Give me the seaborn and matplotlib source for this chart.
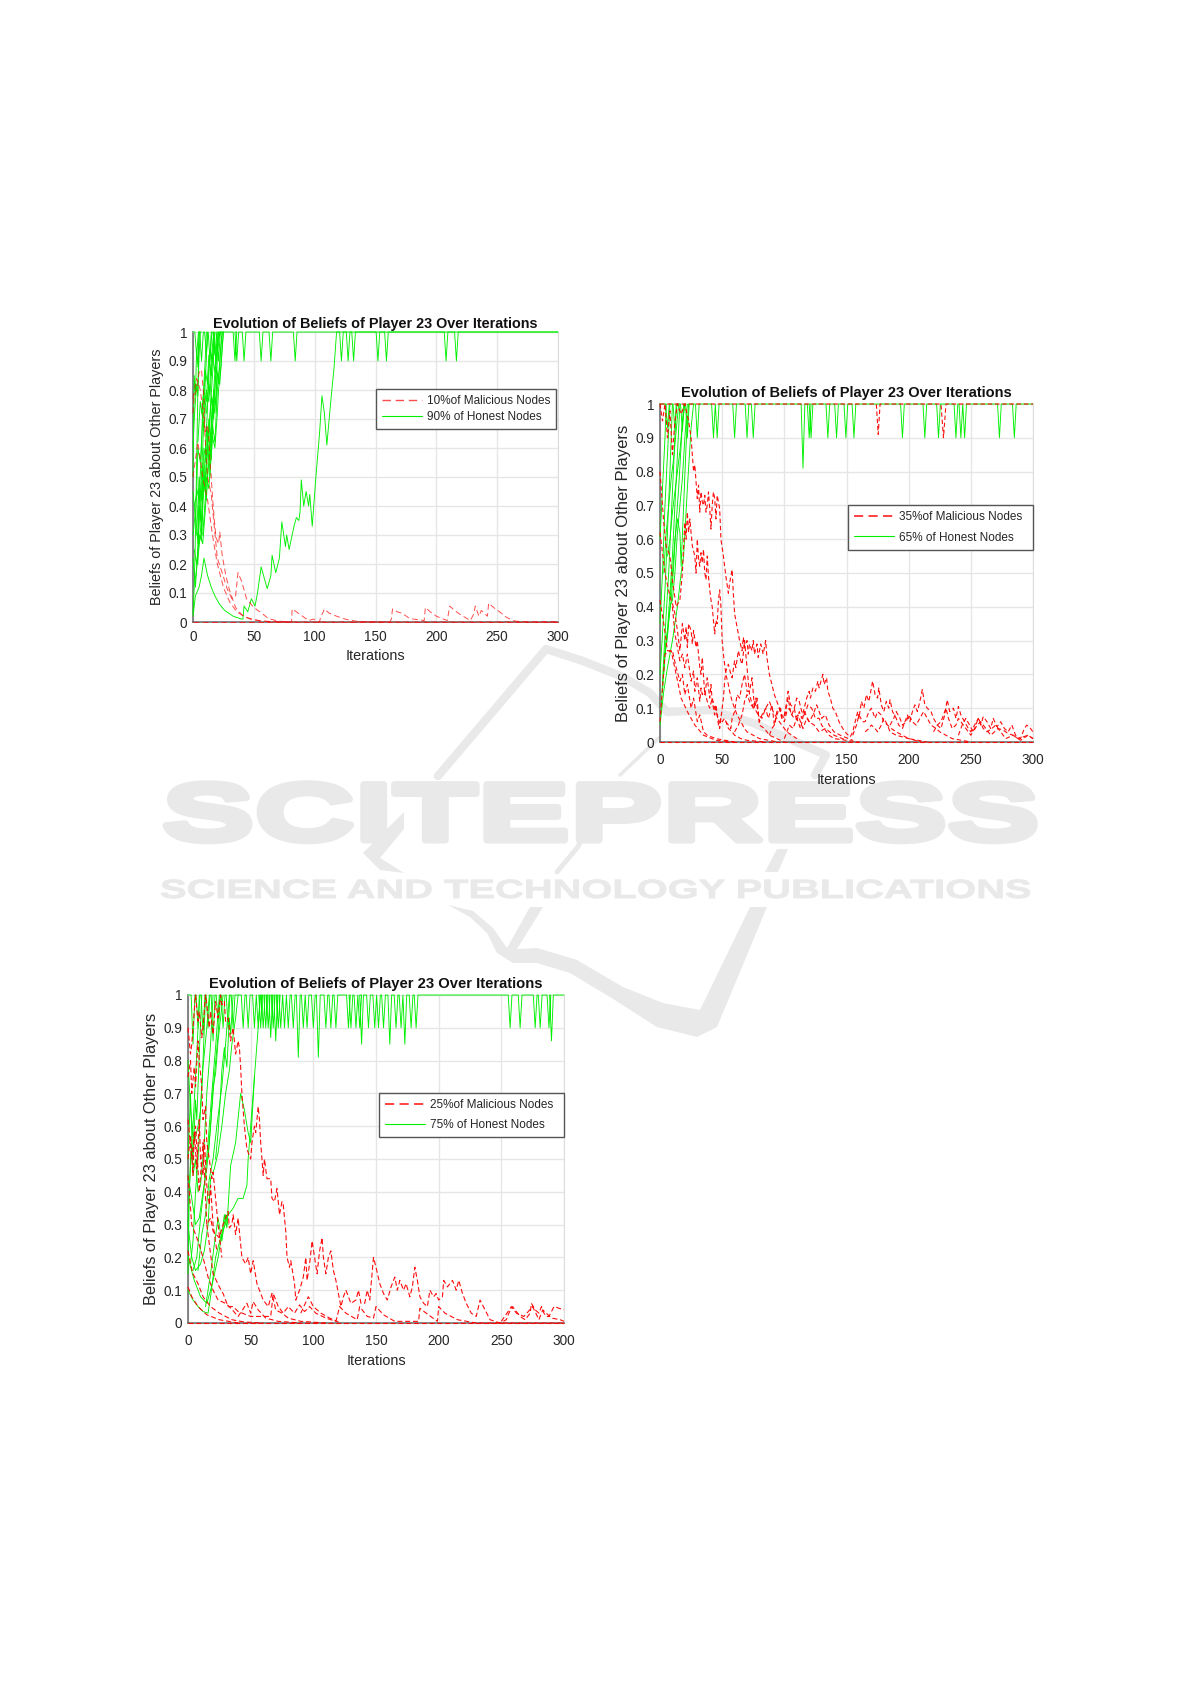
#Recreates the three "Evolution of Beliefs of Player 23" panels plus the page watermark

import matplotlib
matplotlib.use("Agg")
import matplotlib.pyplot as plt
import pandas as pd
import seaborn as sns
from matplotlib.lines import Line2D
from matplotlib.patches import Polygon
from matplotlib.patheffects import AbstractPathEffect
from matplotlib.transforms import Affine2D

PAGE_W = 1191
PAGE_H = 1684

# -----------------------------------------------------------
# Values
# -----------------------------------------------------------
x_ticks = [0, 50, 100, 150, 200, 250, 300]
y_ticks = [0, 0.1, 0.2, 0.3, 0.4, 0.5, 0.6, 0.7, 0.8, 0.9, 1]
y_tick_labels = ["0", "0.1", "0.2", "0.3", "0.4", "0.5", "0.6", "0.7", "0.8", "0.9", "1"]

# 10% malicious
malicious_10 = [
    ([0, 1, 3, 5, 7, 9, 10, 12, 13, 14, 15, 16, 18, 19, 21, 22, 24, 27, 30, 35, 40, 48, 60, 80],
     [0.72, 0.78, 0.8, 0.86, 0.87, 0.77, 0.65, 0.68, 0.64, 0.55, 0.5, 0.43, 0.33, 0.29, 0.27, 0.31, 0.23, 0.16, 0.11, 0.05, 0.025, 0.008, 0.002, 0]),
    ([0, 3, 6, 9, 12, 15, 17, 20, 24, 28, 32, 35, 37, 40, 44, 50, 55, 62, 70, 81, 81.5, 85, 90, 95, 99, 104, 105, 106.5, 108, 112, 118, 125, 135, 162, 163, 164, 168, 172, 178, 190, 191, 195, 200, 209, 211, 215, 220, 228, 231, 232, 235, 237, 242, 243, 247, 252, 258, 265, 275, 300],
     [0.77, 0.84, 0.8, 0.7, 0.5, 0.44, 0.35, 0.22, 0.17, 0.115, 0.08, 0.09, 0.17, 0.14, 0.08, 0.05, 0.035, 0.012, 0.003, 0, 0.045, 0.035, 0.02, 0.005, 0.01, 0, 0.02, 0.03, 0.045, 0.03, 0.02, 0.01, 0.002, 0, 0.01, 0.045, 0.035, 0.03, 0.012, 0.005, 0.05, 0.035, 0.02, 0.005, 0.055, 0.04, 0.025, 0.005, 0.03, 0.055, 0.02, 0.04, 0.02, 0.065, 0.05, 0.035, 0.015, 0.003, 0, 0]),
    ([0, 4, 8, 12, 16, 20, 25, 30, 36, 44, 55, 70, 300],
     [0.5, 0.62, 0.5, 0.42, 0.3, 0.2, 0.12, 0.07, 0.035, 0.015, 0.004, 0, 0]),
    ([0, 300], [0, 0]),
]
honest_10 = [
    ([0, 1, 2, 3, 4, 5], [0.03, 0.12, 0.3, 0.55, 0.8, 1]),
    ([0, 2, 4, 6, 8, 10, 12], [0.22, 0.12, 0.25, 0.42, 0.6, 0.82, 1]),
    ([1, 3, 5, 7, 9, 11, 13, 15], [0.25, 0.2, 0.3, 0.28, 0.5, 0.65, 0.85, 1]),
    ([0, 2, 3, 5, 7, 8, 10, 11], [0.45, 0.35, 0.46, 0.42, 0.6, 0.75, 0.9, 1]),
    ([0, 1, 2, 3, 4, 5, 7], [0.5, 0.85, 0.78, 0.94, 0.88, 1, 1]),
    ([0, 1, 3, 4, 5, 6], [0.6, 0.7, 0.82, 0.78, 0.92, 1]),
    ([0, 2, 4, 5, 7, 8, 10, 12, 14, 16, 18], [0.3, 0.38, 0.27, 0.46, 0.3, 0.5, 0.45, 0.6, 0.72, 0.85, 1]),
    ([2, 4, 6, 8, 10, 12, 14, 15, 17, 19, 21], [0.15, 0.22, 0.3, 0.27, 0.38, 0.5, 0.6, 0.56, 0.75, 0.88, 1]),
    ([3, 5, 7, 9, 11, 13, 15, 17, 19, 20, 22], [0.3, 0.5, 0.42, 0.6, 0.55, 0.7, 0.62, 0.8, 0.75, 0.92, 1]),
    ([5, 7, 9, 11, 13, 14, 16, 18, 20, 22, 24], [0.27, 0.35, 0.48, 0.42, 0.6, 0.5, 0.68, 0.62, 0.8, 0.9, 1]),
    ([6, 8, 10, 12, 14, 16, 18, 20, 22, 24, 25], [0.35, 0.55, 0.47, 0.66, 0.6, 0.77, 0.72, 0.86, 0.82, 0.95, 1]),
    ([4, 6, 8, 10, 12, 14, 16, 18], [0.62, 0.76, 0.7, 0.87, 0.82, 0.94, 0.9, 1]),
    ([7, 9, 11, 13, 15, 17, 19, 21, 23], [0.72, 0.8, 0.76, 0.92, 0.85, 0.97, 0.9, 1, 1]),
    ([1, 3, 4, 6, 8, 9, 11, 13, 15, 17], [0.4, 0.44, 0.6, 0.55, 0.7, 0.66, 0.8, 0.76, 0.9, 1]),
    ([4, 5, 7, 9, 10, 12, 14, 16, 18, 20], [0.2, 0.4, 0.34, 0.52, 0.47, 0.62, 0.57, 0.74, 0.86, 1]),
    ([8, 10, 11, 13, 15, 16, 18, 20, 21, 23, 25], [0.3, 0.42, 0.5, 0.46, 0.58, 0.64, 0.6, 0.72, 0.8, 0.88, 1]),
    ([10, 11, 13, 15, 17, 19, 21, 23, 24], [0.55, 0.68, 0.62, 0.78, 0.7, 0.88, 0.82, 0.96, 1]),
    ([11, 13, 14, 16, 18, 19, 21, 23], [0.72, 0.82, 0.78, 0.92, 0.86, 0.94, 0.98, 1]),
    ([0, 2, 5, 7, 9, 12, 15, 18, 22, 26, 33, 40, 41, 42, 45, 48, 51, 53, 56, 60, 61, 64, 65, 68, 71, 73, 76, 77, 79, 81, 83, 85, 87, 88, 89, 91, 93, 95, 96, 98, 101, 104, 106, 108, 110, 113, 116, 118, 300],
     [0.02, 0.09, 0.12, 0.16, 0.22, 0.16, 0.12, 0.09, 0.06, 0.04, 0.02, 0.01, 0.01, 0.055, 0.035, 0.08, 0.055, 0.1, 0.19, 0.13, 0.115, 0.16, 0.23, 0.17, 0.22, 0.345, 0.26, 0.3, 0.25, 0.29, 0.33, 0.36, 0.35, 0.38, 0.49, 0.4, 0.45, 0.4, 0.44, 0.33, 0.5, 0.65, 0.78, 0.72, 0.61, 0.75, 0.88, 1, 1]),
]
dip_at_10 = [3, 7, 11, 14, 18, 21, 34.5, 36, 42, 56, 64, 84, 122, 127.5, 132, 152, 159, 208, 216.5]
dip_to_10 = [0.92, 0.9, 0.93, 0.9, 0.92, 0.9, 0.9, 0.9, 0.9, 0.9, 0.9, 0.9, 0.9, 0.9, 0.9, 0.9, 0.9, 0.9, 0.9]

# 35% malicious
malicious_35 = [
    ([0, 2, 4, 6, 8, 10, 12, 14, 17, 20, 23, 25, 27, 28, 29, 30, 31, 32, 33, 34, 35, 36, 37, 38, 39, 40, 41, 42, 43, 44, 45, 46, 47, 48, 49, 51, 53, 55, 56, 58, 59, 60, 62, 64, 66, 67, 68, 70, 71, 72, 74, 75, 76, 78, 79, 81, 83, 85, 86, 88, 90, 92, 94, 96, 98, 100, 102, 103, 105, 106, 108, 110, 112, 114, 116, 118, 120, 121, 123, 125, 127, 128, 131, 132, 134, 135, 137, 139, 141, 144, 147, 150, 153, 155, 157, 159, 160, 162, 164, 166, 168, 171, 173, 175, 176, 178, 180, 182, 184, 185, 187, 190, 192, 195, 197, 199, 201, 203, 205, 207, 209, 211, 213, 215, 218, 220, 223, 226, 229, 231, 233, 236, 238, 240, 242, 245, 248, 250, 253, 256, 258, 260, 263, 266, 268, 271, 274, 277, 280, 283, 286, 290, 293, 295, 298, 300],
     [1, 0.95, 1, 0.9, 0.98, 0.85, 0.95, 1, 0.97, 1, 0.95, 0.9, 0.8, 0.82, 0.77, 0.72, 0.76, 0.68, 0.74, 0.71, 0.7, 0.73, 0.68, 0.7, 0.74, 0.69, 0.63, 0.7, 0.74, 0.72, 0.66, 0.73, 0.71, 0.69, 0.6, 0.55, 0.49, 0.44, 0.47, 0.51, 0.44, 0.38, 0.34, 0.3, 0.27, 0.31, 0.28, 0.3, 0.26, 0.29, 0.27, 0.3, 0.26, 0.29, 0.25, 0.29, 0.26, 0.3, 0.25, 0.2, 0.17, 0.14, 0.12, 0.1, 0.08, 0.07, 0.11, 0.13, 0.09, 0.08, 0.1, 0.06, 0.09, 0.07, 0.1, 0.13, 0.15, 0.13, 0.16, 0.15, 0.18, 0.16, 0.2, 0.17, 0.19, 0.15, 0.13, 0.1, 0.09, 0.06, 0.04, 0.025, 0.015, 0.03, 0.06, 0.09, 0.07, 0.12, 0.1, 0.14, 0.12, 0.18, 0.14, 0.13, 0.16, 0.11, 0.09, 0.12, 0.1, 0.125, 0.09, 0.07, 0.05, 0.04, 0.06, 0.08, 0.06, 0.09, 0.11, 0.09, 0.12, 0.155, 0.11, 0.1, 0.09, 0.07, 0.05, 0.04, 0.08, 0.125, 0.09, 0.1, 0.07, 0.105, 0.08, 0.06, 0.04, 0.03, 0.05, 0.07, 0.05, 0.075, 0.06, 0.04, 0.07, 0.045, 0.06, 0.04, 0.03, 0.05, 0.02, 0.01, 0.04, 0.05, 0.04, 0.03]),
    ([0, 3, 5, 8, 10, 13, 16, 18, 19, 20, 21, 22, 23, 24, 25, 26, 28, 29, 30, 31, 32, 33, 34, 35, 36, 37, 38, 39, 40, 41, 42, 43, 44, 45, 46, 47, 48, 49, 50, 51, 53, 55, 56, 58, 60, 62, 65, 68, 70, 75, 80, 95],
     [0.8, 0.65, 0.58, 0.55, 0.48, 0.4, 0.42, 0.5, 0.58, 0.65, 0.6, 0.68, 0.62, 0.66, 0.62, 0.58, 0.55, 0.5, 0.6, 0.54, 0.52, 0.56, 0.53, 0.57, 0.5, 0.48, 0.55, 0.49, 0.45, 0.42, 0.4, 0.36, 0.32, 0.36, 0.35, 0.42, 0.45, 0.4, 0.3, 0.26, 0.2, 0.17, 0.15, 0.12, 0.1, 0.08, 0.06, 0.04, 0.03, 0.02, 0.01, 0]),
    ([0, 4, 8, 10, 12, 14, 15, 16, 18, 20, 21, 22, 23, 25, 26, 27, 29, 30, 32, 33, 34, 36, 38, 40, 41, 42, 44, 45, 47, 49, 50, 52, 55, 58, 60, 65, 70, 85],
     [0.62, 0.5, 0.43, 0.41, 0.38, 0.33, 0.3, 0.27, 0.35, 0.3, 0.34, 0.28, 0.35, 0.33, 0.29, 0.33, 0.28, 0.3, 0.22, 0.2, 0.25, 0.14, 0.19, 0.13, 0.17, 0.12, 0.08, 0.11, 0.05, 0.07, 0.06, 0.07, 0.04, 0.03, 0.02, 0.01, 0.005, 0]),
    ([0, 3, 6, 10, 13, 16, 18, 20, 22, 25, 27, 30, 32, 35, 38, 45, 60], [0.42, 0.35, 0.27, 0.27, 0.22, 0.18, 0.2, 0.14, 0.17, 0.1, 0.13, 0.06, 0.08, 0.03, 0.02, 0.01, 0]),
    ([0, 4, 9, 13, 17, 22, 28, 35, 45, 60], [0.06, 0.26, 0.27, 0.2, 0.13, 0.09, 0.05, 0.02, 0.005, 0]),
    ([10, 12, 14, 16, 18, 20, 22, 25, 27, 28, 30, 32, 33, 34, 36, 38, 40, 42, 44, 45, 47, 48, 50, 51, 52, 53, 55, 57, 58, 60, 61, 63, 65, 66, 67, 68, 70, 72, 75, 77, 80, 82, 85, 87, 88, 90, 92, 94, 96, 98, 100, 102, 103, 105, 108, 110, 112, 114, 116, 119, 122, 125, 128, 130, 132, 136, 140, 160],
     [0.4, 0.32, 0.28, 0.24, 0.26, 0.22, 0.26, 0.18, 0.21, 0.15, 0.19, 0.12, 0.16, 0.14, 0.15, 0.12, 0.1, 0.13, 0.1, 0.09, 0.07, 0.04, 0.1, 0.13, 0.18, 0.21, 0.23, 0.2, 0.19, 0.24, 0.22, 0.27, 0.24, 0.23, 0.26, 0.3, 0.22, 0.14, 0.1, 0.13, 0.06, 0.08, 0.1, 0.07, 0.08, 0.11, 0.05, 0.08, 0.1, 0.07, 0.08, 0.12, 0.15, 0.11, 0.1, 0.13, 0.12, 0.09, 0.08, 0.11, 0.1, 0.07, 0.07, 0.05, 0.04, 0.02, 0.01, 0]),
    ([53, 55, 57, 58, 60, 62, 64, 66, 68, 70, 72, 74, 76, 78, 80, 84, 88, 100], [0.06, 0.05, 0.04, 0.07, 0.09, 0.14, 0.13, 0.17, 0.2, 0.15, 0.15, 0.19, 0.1, 0.13, 0.05, 0.04, 0.02, 0]),
    ([60, 63, 66, 68, 70, 73, 76, 79, 82, 85, 88, 91, 94, 98, 102, 106, 110], [0.03, 0.05, 0.08, 0.12, 0.14, 0.11, 0.1, 0.08, 0.07, 0.1, 0.12, 0.09, 0.07, 0.05, 0.03, 0.02, 0.01]),
    ([88, 90, 92, 94, 97, 98, 100, 102, 104, 106, 108, 111, 115, 118, 120, 123, 126, 128, 130, 133, 136, 140, 145, 155], [0.02, 0.04, 0.05, 0.09, 0.1, 0.07, 0.06, 0.09, 0.1, 0.08, 0.07, 0.08, 0.04, 0.07, 0.06, 0.08, 0.11, 0.09, 0.07, 0.08, 0.05, 0.03, 0.02, 0.005]),
    ([100, 104, 107, 110, 113, 116, 120, 124, 128, 133, 140, 150], [0.01, 0.05, 0.04, 0.07, 0.04, 0.09, 0.06, 0.05, 0.03, 0.04, 0.02, 0.005]),
    ([155, 158, 160, 163, 165, 168, 170, 173, 175, 178, 180, 183, 186, 190, 195, 200, 215], [0.02, 0.05, 0.08, 0.06, 0.06, 0.09, 0.1, 0.07, 0.09, 0.08, 0.06, 0.05, 0.04, 0.03, 0.02, 0.01, 0]),
    ([165, 168, 170, 173, 175, 178, 180, 183, 185, 190, 195, 210], [0.03, 0.04, 0.05, 0.04, 0.03, 0.05, 0.07, 0.05, 0.03, 0.02, 0.015, 0]),
    ([185, 188, 190, 193, 195, 198, 200, 203, 206, 209, 212, 215, 218, 222, 225, 230, 235, 250], [0.05, 0.07, 0.09, 0.07, 0.05, 0.06, 0.08, 0.06, 0.05, 0.07, 0.09, 0.07, 0.05, 0.04, 0.03, 0.02, 0.01, 0]),
    ([220, 223, 226, 228, 230, 232, 235, 238, 240, 244, 250, 253, 256, 260, 263, 267, 270, 274, 278, 284, 290, 296, 300], [0.03, 0.05, 0.06, 0.08, 0.1, 0.07, 0.04, 0.05, 0.07, 0.05, 0.02, 0.04, 0.07, 0.04, 0.03, 0.04, 0.05, 0.03, 0.01, 0.02, 0.005, 0.02, 0.01]),
    ([240, 243, 246, 249, 252, 255, 258, 262, 266, 269, 272, 276, 280, 284, 288, 292, 296, 300], [0.02, 0.05, 0.07, 0.05, 0.03, 0.05, 0.06, 0.04, 0.02, 0.03, 0.04, 0.035, 0.025, 0.02, 0.01, 0.015, 0.02, 0.01]),
    ([0, 174, 175.5, 177, 226, 228, 230, 300], [1, 1, 0.91, 1, 1, 0.9, 1, 1]),
    ([0, 300], [0, 0]),
]
honest_35 = [
    ([0, 3, 6, 10, 14, 17, 19, 22, 25, 27], [0.05, 0.15, 0.22, 0.3, 0.4, 0.5, 0.55, 0.75, 0.93, 1]),
    ([0, 2, 4, 5], [0.6, 0.75, 0.9, 1]),
    ([0, 2, 4, 6, 8], [0.35, 0.5, 0.7, 0.85, 1]),
    ([0, 2, 4, 6, 8, 10], [0.2, 0.32, 0.45, 0.62, 0.8, 1]),
    ([1, 3, 5, 7, 9, 11, 13], [0.1, 0.25, 0.38, 0.5, 0.66, 0.82, 1]),
    ([2, 4, 6, 8, 10, 12, 14, 16], [0.15, 0.27, 0.33, 0.44, 0.55, 0.7, 0.85, 1]),
    ([3, 5, 7, 9, 11, 13, 15, 17, 19], [0.2, 0.3, 0.36, 0.42, 0.52, 0.65, 0.75, 0.88, 1]),
    ([4, 6, 8, 10, 12, 14, 16, 18, 20, 22], [0.26, 0.31, 0.4, 0.42, 0.5, 0.62, 0.7, 0.78, 0.9, 1]),
    ([8, 10, 12, 14, 16, 17, 19, 21, 23], [0.42, 0.5, 0.6, 0.66, 0.62, 0.52, 0.7, 0.88, 1]),
    ([6, 8, 10, 12, 14, 16, 18, 20], [0.55, 0.6, 0.68, 0.74, 0.8, 0.86, 0.94, 1]),
    ([3, 5, 7, 9, 11, 13, 15], [0.5, 0.62, 0.7, 0.78, 0.84, 0.92, 1]),
]
dip_at_35 = [6, 12, 18, 22, 30, 43, 46, 60, 70, 75, 115, 120, 121.5, 135, 142, 149.5, 156, 195, 213, 224, 238, 242, 245, 273, 285]
dip_to_35 = [0.93, 0.92, 0.92, 0.9, 0.9, 0.9, 0.9, 0.9, 0.9, 0.9, 0.81, 0.9, 0.9, 0.9, 0.9, 0.9, 0.9, 0.9, 0.9, 0.9, 0.9, 0.9, 0.9, 0.9, 0.9]

# 25% malicious
malicious_25 = [
    ([0, 2, 3, 5, 6, 8, 9, 11, 12, 14, 15, 17, 18, 20, 22, 24, 26, 27, 29, 30, 32, 34, 35, 36, 38, 40, 41, 42, 43, 45, 47, 48, 50, 51, 53, 54, 56, 57, 58, 60, 61, 63, 66, 67, 69, 71, 73, 75, 76, 78, 79, 81, 82, 85, 86, 88, 89, 92, 94, 95, 97, 99, 101, 103, 105, 107, 108, 110, 112, 114, 116, 118, 122, 124, 126, 130, 134, 136, 138, 141, 143, 145, 148, 150, 153, 156, 159, 162, 165, 167, 169, 172, 174, 177, 179, 181, 183, 185, 188, 191, 193, 196, 198, 200, 203, 204, 207, 211, 214, 216, 219, 222, 226, 230, 233, 237, 241, 245, 249, 254, 256, 259, 262, 265, 269, 273, 274, 277, 280, 282, 284, 286, 288, 292, 296, 300],
     [0.9, 0.82, 0.85, 0.95, 1, 0.92, 0.95, 0.87, 0.9, 1, 0.97, 0.9, 0.95, 0.88, 0.98, 0.93, 1, 0.97, 0.98, 0.92, 0.93, 0.86, 0.88, 0.9, 0.82, 0.86, 0.84, 0.78, 0.7, 0.6, 0.53, 0.52, 0.5, 0.55, 0.6, 0.58, 0.66, 0.62, 0.55, 0.45, 0.5, 0.44, 0.44, 0.38, 0.37, 0.41, 0.33, 0.37, 0.36, 0.28, 0.2, 0.17, 0.19, 0.12, 0.07, 0.09, 0.1, 0.14, 0.2, 0.13, 0.18, 0.25, 0.2, 0.15, 0.22, 0.26, 0.2, 0.15, 0.2, 0.22, 0.16, 0.13, 0.05, 0.08, 0.1, 0.06, 0.07, 0.1, 0.06, 0.06, 0.1, 0.07, 0.2, 0.17, 0.12, 0.09, 0.07, 0.11, 0.14, 0.1, 0.13, 0.1, 0.12, 0.08, 0.11, 0.17, 0.13, 0.08, 0.06, 0.05, 0.1, 0.08, 0.09, 0.07, 0.08, 0.13, 0.11, 0.13, 0.1, 0.13, 0.09, 0.06, 0.03, 0.02, 0.07, 0.04, 0.01, 0.005, 0, 0.01, 0.03, 0.05, 0.035, 0.02, 0.01, 0.03, 0.06, 0.04, 0.03, 0.05, 0.03, 0.02, 0.02, 0.05, 0.045, 0.04]),
    ([0, 3, 6, 9, 12, 15, 18, 20, 25, 28, 30, 32, 33, 35, 36, 38, 40, 43, 46, 48, 50, 52, 55, 60, 64, 67, 70, 75, 80, 90, 110],
     [0.62, 0.5, 0.6, 0.4, 0.55, 0.3, 0.32, 0.28, 0.26, 0.3, 0.32, 0.34, 0.29, 0.3, 0.33, 0.27, 0.32, 0.2, 0.18, 0.2, 0.15, 0.19, 0.12, 0.07, 0.05, 0.09, 0.04, 0.03, 0.015, 0.005, 0]),
    ([0, 2, 4, 8, 12, 18, 25, 35, 45, 60], [0.22, 0.18, 0.15, 0.12, 0.08, 0.05, 0.03, 0.01, 0.003, 0]),
    ([0, 3, 8, 15, 25, 40], [0.11, 0.08, 0.05, 0.025, 0.01, 0]),
    ([0, 3, 8, 12, 16, 20, 24, 30, 33, 40, 47, 50, 52, 56, 62, 72, 90],
     [0.45, 0.3, 0.25, 0.2, 0.14, 0.1, 0.07, 0.06, 0.05, 0.02, 0.06, 0.03, 0.065, 0.04, 0.015, 0.005, 0]),
    ([15, 20, 25, 28, 32, 36, 40, 50, 66, 68, 72, 76, 80, 85, 89, 93, 97, 102, 110, 118, 121, 126, 135, 137, 143, 148, 150, 156, 165, 184, 185, 190, 199, 200, 205, 215, 230, 300],
     [0.3, 0.15, 0.11, 0.09, 0.05, 0.05, 0.035, 0.02, 0.02, 0.09, 0.05, 0.03, 0.05, 0.03, 0.055, 0.035, 0.05, 0.03, 0.015, 0.005, 0.05, 0.03, 0.01, 0.05, 0.02, 0.015, 0.05, 0.025, 0.005, 0.005, 0.045, 0.03, 0.005, 0.05, 0.03, 0.01, 0, 0]),
    ([0, 2, 3, 5, 6, 8, 9, 11, 12, 14, 15, 17, 19, 20, 22, 24, 27], [0.75, 0.8, 0.7, 0.78, 0.72, 0.86, 0.8, 0.72, 0.62, 0.66, 0.55, 0.5, 0.44, 0.46, 0.38, 0.3, 0.2]),
    ([0, 2, 4, 5, 7, 9, 10, 12, 13, 15, 17, 18, 20, 23], [0.5, 0.57, 0.45, 0.58, 0.47, 0.62, 0.5, 0.45, 0.56, 0.42, 0.36, 0.42, 0.3, 0.22]),
    ([90, 96, 100, 106, 113, 120], [0.03, 0.08, 0.05, 0.03, 0.015, 0.003]),
    ([250, 258, 262, 268, 275, 280, 283, 290, 297, 300], [0.005, 0.05, 0.03, 0.02, 0.05, 0.01, 0.04, 0.015, 0.01, 0.005]),
    ([0, 300], [0, 0]),
]
honest_25 = [
    ([0, 4, 8, 12, 16, 18, 22, 26, 28, 32, 36, 40, 44, 47, 48, 52, 55, 58], [0.1, 0.07, 0.05, 0.035, 0.03, 0.08, 0.2, 0.26, 0.28, 0.33, 0.35, 0.38, 0.38, 0.42, 0.5, 0.7, 0.85, 1]),
    ([0, 5, 10, 15, 18, 20, 24, 27, 29, 31, 34, 38, 42, 45, 48, 50, 53], [0.2, 0.13, 0.08, 0.06, 0.1, 0.13, 0.2, 0.27, 0.33, 0.29, 0.48, 0.55, 0.7, 0.65, 0.58, 0.55, 0.75]),
    ([0, 3, 6, 10, 13, 16, 18, 21, 24, 27, 30, 33, 35, 38, 40], [0.3, 0.2, 0.16, 0.18, 0.22, 0.3, 0.44, 0.47, 0.52, 0.6, 0.7, 0.77, 0.85, 0.93, 1]),
    ([0, 3, 6, 9, 12, 15, 18, 21, 24, 26], [0.45, 0.38, 0.3, 0.32, 0.4, 0.47, 0.6, 0.75, 0.88, 1]),
    ([0, 2, 4, 6, 8, 10, 13, 15, 18, 20], [0.5, 0.7, 0.45, 0.5, 0.4, 0.42, 0.55, 0.7, 0.85, 1]),
    ([0, 2, 5, 8, 10, 12, 15, 17], [0.8, 0.65, 0.55, 0.6, 0.65, 0.78, 0.9, 1]),
    ([0, 2, 4, 6, 8, 9], [0.3, 0.5, 0.6, 0.75, 0.9, 1]),
    ([2, 4, 6, 8, 10, 12, 14], [0.18, 0.25, 0.4, 0.5, 0.65, 0.8, 1]),
    ([4, 7, 10, 13, 16, 19, 22, 25], [0.16, 0.2, 0.32, 0.42, 0.55, 0.7, 0.84, 1]),
    ([8, 11, 14, 17, 20, 23, 27, 30, 33], [0.16, 0.27, 0.33, 0.44, 0.5, 0.6, 0.72, 0.85, 1]),
    ([14, 18, 21, 24, 27, 30, 32], [0.05, 0.15, 0.24, 0.32, 0.25, 0.33, 0.3]),
    ([22, 24, 26, 27, 29, 31, 33, 34, 36], [0.5, 0.58, 0.7, 0.77, 0.84, 0.78, 0.93, 0.88, 1]),
    ([16, 18, 20, 22, 24, 26, 28], [0.5, 0.6, 0.72, 0.76, 0.86, 0.93, 1]),
    ([0, 1, 3, 4, 6, 7, 9, 11], [0.15, 0.4, 0.55, 0.5, 0.68, 0.62, 0.82, 1]),
]
dip_at_25 = [4, 8, 12, 16, 20, 24, 28, 32, 36, 44, 48, 53, 56, 58, 60, 62, 64, 66, 68, 70, 72, 74, 77, 80, 84, 88, 92, 95, 100, 104, 110, 114, 118, 128, 130, 134, 137, 138.5, 144, 149, 152, 156, 161, 166, 170, 173, 178, 182, 257, 265, 277, 281, 288, 290]
dip_to_25 = [0.85, 0.9, 0.88, 0.9, 0.86, 0.92, 0.9, 0.9, 0.9, 0.9, 0.9, 0.9, 0.9, 0.9, 0.9, 0.9, 0.9, 0.87, 0.9, 0.86, 0.9, 0.9, 0.9, 0.9, 0.9, 0.81, 0.9, 0.9, 0.9, 0.81, 0.9, 0.9, 0.9, 0.9, 0.9, 0.9, 0.9, 0.85, 0.9, 0.9, 0.9, 0.9, 0.85, 0.9, 0.9, 0.85, 0.9, 0.9, 0.9, 0.9, 0.9, 0.9, 0.9, 0.86]

# Watermark outline on the page, in pixels
swoosh_low = [(448, 905), (473, 911), (493, 928), (507, 948), (530, 907), (543, 907), (517, 949), (537, 948), (577, 960), (623, 987), (663, 1003), (700, 1010), (750, 907), (767, 907), (717, 1027), (697, 1037), (657, 1027), (610, 997), (570, 973), (537, 963), (513, 963), (497, 953), (487, 933), (470, 917)]
swoosh_left = [(404, 812), (404, 829), (380, 858), (404, 873), (380, 870), (363, 853)]
swoosh_slash = [(777, 849), (788, 849), (778, 872), (765, 872)]
swoosh_top = [(438, 776), (546, 649), (583, 661), (623, 677), (650, 693), (667, 712), (710, 710), (753, 723), (826, 755), (815, 775)]
swoosh_thin = [(620, 775), (660, 737)]
swoosh_thin2 = [(557, 872), (577, 848), (583, 838), (590, 827)]


class StretchText(AbstractPathEffect): #Widens and thickens the glyphs, the watermark letters are very wide
    def __init__(self, sx, stroke):
        super().__init__()
        self.sx = sx
        self.stroke = stroke

    def draw_path(self, renderer, gc, tpath, affine, rgbFace=None):
        gc0 = renderer.new_gc()
        gc0.copy_properties(gc)
        gc0.set_linewidth(self.stroke)
        gc0.set_foreground(rgbFace)
        renderer.draw_path(gc0, tpath, Affine2D().scale(self.sx, 1) + affine, rgbFace)
        gc0.restore()


def px_rect(left, top, right, bottom): #Axes rectangle from page pixels
    return [left / PAGE_W, 1 - bottom / PAGE_H, (right - left) / PAGE_W, (bottom - top) / PAGE_H]


def page_xy(points): #Page pixels to figure fractions
    return [(x / PAGE_W, 1 - y / PAGE_H) for x, y in points]


def make_frame(traces):
    rows = []
    for node, (xs, ys) in enumerate(traces):
        rows.append(pd.DataFrame({"iteration": xs, "belief": ys, "node": node}))
    return pd.concat(rows, ignore_index=True)


def dips_trace(dip_at, dip_to): #Honest node that sits at 1 and drops at the listed iterations
    xs = [0]
    ys = [1]
    for at, to in zip(dip_at, dip_to):
        xs += [at - 1.5, at, at + 1.5]
        ys += [1, to, 1]
    xs.append(300)
    ys.append(1)
    return xs, ys


def draw_watermark(fig):
    color = "#e8e9e8"
    for points in [swoosh_low, swoosh_left, swoosh_slash]:
        fig.add_artist(Polygon(page_xy(points), closed=True, transform=fig.transFigure,
                               facecolor=color, edgecolor="none", zorder=-2))
    top = page_xy(swoosh_top)
    fig.add_artist(Line2D([p[0] for p in top], [p[1] for p in top], transform=fig.transFigure,
                          color=color, linewidth=6, zorder=-2))
    for points, width in [(swoosh_thin, 2.5), (swoosh_thin2, 3.5)]:
        line = page_xy(points)
        fig.add_artist(Line2D([p[0] for p in line], [p[1] for p in line], transform=fig.transFigure,
                              color=color, linewidth=width, zorder=-2))
    big = fig.text(162 / PAGE_W, 1 - 840 / PAGE_H, "SCITEPRESS", fontsize=58, fontweight="bold",
                   color=color, ha="left", va="baseline", zorder=-1)
    big.set_path_effects([StretchText(1.72, 5)])
    small = fig.text(160 / PAGE_W, 1 - 898 / PAGE_H, "SCIENCE AND TECHNOLOGY PUBLICATIONS", fontsize=19,
                     fontweight="bold", color=color, ha="left", va="baseline", zorder=-1)
    small.set_path_effects([StretchText(1.51, 0.6)])


def plot_panel(fig, rect, malicious, honest, dip_at, dip_to, labels, legend_box, sizes, pads, red_width, red_alpha, dash):
    ax = fig.add_axes(px_rect(*rect))
    ax.patch.set_alpha(0)
    title_size, ylabel_size = sizes
    title_pad, x_pad, label_pad, legend_gap = pads

    honest_df = make_frame(honest + [dips_trace(dip_at, dip_to)])
    sns.lineplot(data=honest_df, x="iteration", y="belief", units="node", estimator=None, sort=False,
                 color="#00f000", linewidth=0.65, legend=False, ax=ax, zorder=3, clip_on=False)
    malicious_df = make_frame(malicious)
    sns.lineplot(data=malicious_df, x="iteration", y="belief", units="node", estimator=None, sort=False,
                 color="#ff0000", alpha=red_alpha, linewidth=red_width, linestyle=(0, dash),
                 legend=False, ax=ax, zorder=4, clip_on=False)

    ax.set_xlim(0, 300)
    ax.set_ylim(0, 1)
    ax.set_xticks(x_ticks)
    ax.set_yticks(y_ticks)
    ax.set_yticklabels(y_tick_labels)
    ax.tick_params(axis="both", direction="in", length=3, width=0.8, color="#666666",
                   labelsize=9.8, labelcolor="#262626", pad=4)
    ax.tick_params(axis="x", pad=x_pad)
    ax.grid(True, color="#e6e6e6", linewidth=1)
    ax.set_axisbelow(True)
    for side in ["top", "right"]:
        ax.spines[side].set_color("#dddddd")
        ax.spines[side].set_linewidth(0.8)
    for side in ["left", "bottom"]:
        ax.spines[side].set_color("#666666")
        ax.spines[side].set_linewidth(1.1)

    ax.set_title("Evolution of Beliefs of Player 23 Over Iterations", fontsize=title_size, fontweight="bold",
                 color="#111111", pad=title_pad)
    ax.set_xlabel("Iterations", fontsize=10.4, color="#262626", labelpad=label_pad)
    ax.set_ylabel("Beliefs of Player 23 about Other Players", fontsize=ylabel_size, color="#262626", labelpad=3)

    handles = [
        Line2D([], [], color="#ff0000", alpha=red_alpha, linewidth=red_width + 0.3, linestyle=(0, (6, 3.5))),
        Line2D([], [], color="#00f000", linewidth=0.8),
    ]
    left, top, right, bottom = rect
    b_left, b_top, b_right, b_bottom = legend_box
    anchor = ((b_left - left) / (right - left), (bottom - b_bottom) / (bottom - top),
              (b_right - b_left) / (right - left), (b_bottom - b_top) / (bottom - top))
    ax.legend(handles, labels, loc="center", bbox_to_anchor=anchor, mode="expand", fontsize=8.5,
              handlelength=3.4, handletextpad=0.45, labelspacing=legend_gap, borderaxespad=0, borderpad=0.5,
              frameon=True, fancybox=False, framealpha=1, facecolor="white", edgecolor="#555555",
              labelcolor="#262626").set_zorder(10)
    return ax


if __name__ == "__main__":
    sns.set_theme(style="whitegrid")
    plt.rcParams["font.family"] = ["Liberation Sans", "DejaVu Sans"]

    fig = plt.figure(figsize=(PAGE_W / 100, PAGE_H / 100), dpi=100, facecolor="white")
    draw_watermark(fig)

    plot_panel(fig, (193, 332, 558, 622), malicious_10, honest_10, dip_at_10, dip_to_10,
               ["10%of Malicious Nodes", "90% of Honest Nodes"], (376, 390, 556, 428),
               (10.35, 10.35), (3, 6, 3, 0.35), 0.7, 0.7, (6, 3.5))
    plot_panel(fig, (660, 404, 1033, 742), malicious_35, honest_35, dip_at_35, dip_to_35,
               ["35%of Malicious Nodes", "65% of Honest Nodes"], (848, 505, 1033, 550),
               (10.5, 12.0), (5, 8, 4, 0.7), 0.8, 0.95, (4, 2.5))
    plot_panel(fig, (188, 995, 564, 1323), malicious_25, honest_25, dip_at_25, dip_to_25,
               ["25%of Malicious Nodes", "75% of Honest Nodes"], (379, 1093, 564, 1137),
               (10.65, 11.75), (5, 8, 4, 0.7), 0.8, 0.95, (4.5, 2.5))

    plt.savefig("out.png", dpi=100)
